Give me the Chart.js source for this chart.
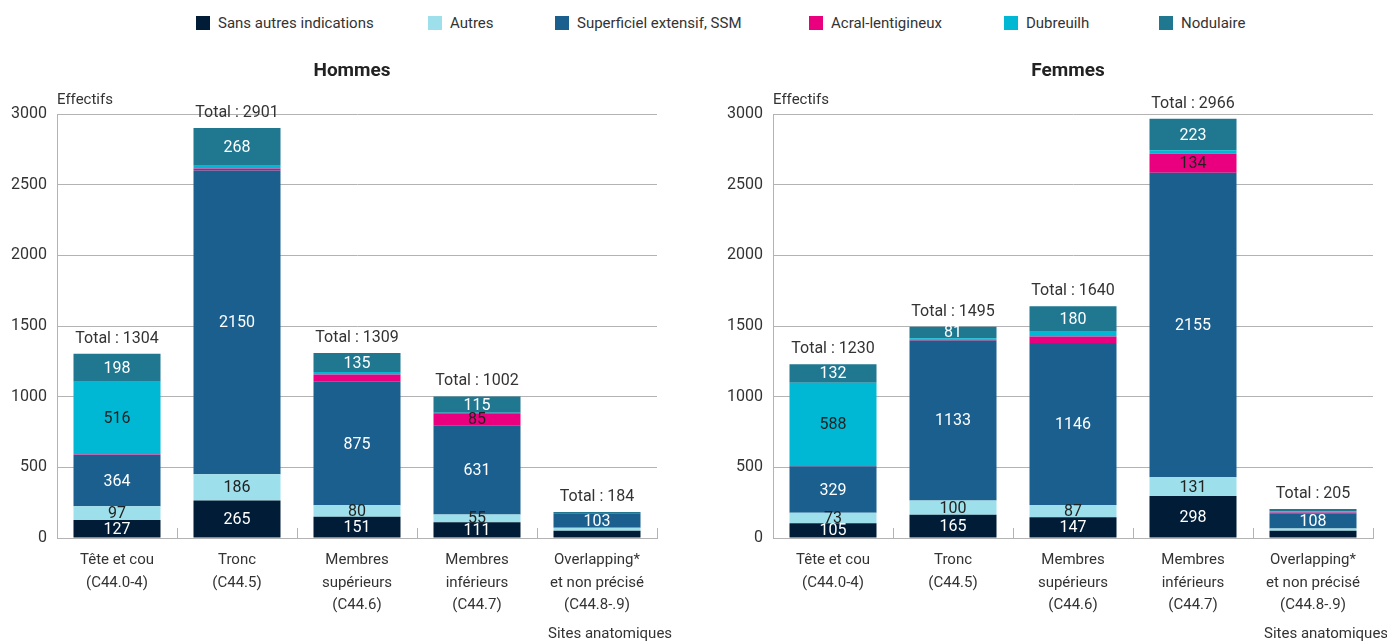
<!DOCTYPE html>
<html><head><meta charset="utf-8">
<script src="https://cdn.jsdelivr.net/npm/chart.js@4.4.0/dist/chart.umd.min.js"></script>
<style>
body{margin:0;background:#fff;width:1387px;height:643px;overflow:hidden;position:relative;font-family:Roboto,'Liberation Sans',sans-serif;}
#legend{position:absolute;top:14px;left:0;width:1387px;height:20px;font-size:15px;color:#333;white-space:nowrap;}
.item{position:absolute;top:0;display:flex;align-items:center;}
.box{width:14px;height:14px;margin-right:8px;}
canvas{position:absolute;top:0;}
</style></head><body>
<div id="legend"></div>
<canvas id="c1" width="693" height="643" style="left:0"></canvas>
<canvas id="c2" width="694" height="643" style="left:693px"></canvas>
<script>
const FONT = "Roboto,'Liberation Sans',sans-serif";
const categories = [["Tête et cou","(C44.0-4)"],["Tronc","(C44.5)"],["Membres","supérieurs","(C44.6)"],["Membres","inférieurs","(C44.7)"],["Overlapping*","et non précisé","(C44.8-.9)"]];
const seriesNames = ["Sans autres indications","Autres","Superficiel extensif, SSM","Acral-lentigineux","Dubreuilh","Nodulaire"];
const seriesColors = ["#001c37","#9ddfeb","#1a5f8e","#ea007f","#00b8d3","#1f7790"];
const labelColors = ["#ffffff","#222222","#ffffff","#222222","#222222","#ffffff"];
const yTicks = [0,500,1000,1500,2000,2500,3000];

// Hommes
const hSAI = [127,265,151,111,52];
const hAutres = [97,186,80,55,20];
const hSSM = [364,2150,875,631,103];
const hAcral = [2,13,50,85,0];
const hDub = [516,19,18,5,2];
const hNod = [198,268,135,115,7];
const hTotals = [1304,2901,1309,1002,184];

// Femmes
const fSAI = [105,165,147,298,52];
const fAutres = [73,100,87,131,16];
const fSSM = [329,1133,1146,2155,108];
const fAcral = [3,5,45,134,4];
const fDub = [588,11,35,25,7];
const fNod = [132,81,180,223,18];
const fTotals = [1230,1495,1640,2966,205];

const LABEL_MIN = 55;
const GRID = '#b3b3b3';
const legendLeft = [196,428,555,809,1004,1159]; // layout

const lg = document.getElementById('legend');
seriesNames.forEach((n,i)=>{
  const it=document.createElement('div');it.className='item';it.style.left=legendLeft[i]+'px';
  const b=document.createElement('div');b.className='box';b.style.background=seriesColors[i];
  const t=document.createElement('span');t.textContent=n;
  it.appendChild(b);it.appendChild(t);lg.appendChild(it);
});

Chart.defaults.font.family = FONT;
Chart.defaults.color = '#333';

function makeChart(id, title, series, totals, yWidth, rightPad) {
  const textPlugin = {
    id:'txt',
    afterDatasetsDraw(chart){
      const ctx = chart.ctx, ca = chart.chartArea, xs = chart.scales.x;
      ctx.save();
      const half = (xs.getPixelForValue(1)-xs.getPixelForValue(0))/2;
      ctx.strokeStyle = GRID; ctx.lineWidth = 1;
      for (let i=0;i<=categories.length;i++){
        const x = Math.round(xs.getPixelForValue(i)-half)+0.5;
        ctx.beginPath(); ctx.moveTo(x, ca.bottom); ctx.lineTo(x, ca.bottom-10); ctx.stroke();
      }
      ctx.textAlign='center'; ctx.textBaseline='middle';
      ctx.font = "16px "+FONT;
      chart.data.datasets.forEach((ds,di)=>{
        const meta = chart.getDatasetMeta(di);
        meta.data.forEach((bar,i)=>{
          const v = ds.data[i];
          if (v < LABEL_MIN) return;
          ctx.fillStyle = labelColors[di];
          ctx.fillText(String(v), bar.x, (bar.y+bar.base)/2+1);
        });
      });
      ctx.fillStyle='#333';
      const last = chart.getDatasetMeta(chart.data.datasets.length-1);
      last.data.forEach((bar,i)=>{
        ctx.fillText('Total : '+totals[i], bar.x, bar.y-15);
      });
      ctx.fillStyle='#222';
      ctx.font = "bold 19px "+FONT;
      ctx.fillText(title, (ca.left+ca.right)/2-5, 71);
      ctx.font = "15px "+FONT;
      ctx.fillStyle='#333';
      ctx.textAlign='left';
      ctx.fillText('Effectifs', ca.left, 100);
      ctx.fillText('Sites anatomiques', ca.right-109, 634);
      ctx.restore();
    }
  };
  return new Chart(document.getElementById(id), {
    type:'bar',
    data:{
      labels: categories,
      datasets: series.map((d,i)=>({label:seriesNames[i], data:d, backgroundColor:seriesColors[i], borderWidth:0, barPercentage:0.725, categoryPercentage:1}))
    },
    options:{
      responsive:false, animation:false,
      layout:{padding:{top:114,right:rightPad,left:0,bottom:0}},
      plugins:{legend:{display:false}, title:{display:false}, tooltip:{enabled:false}},
      scales:{
        x:{stacked:true, grid:{display:false}, border:{display:true,color:GRID,width:1},
           ticks:{padding:3, font:{size:15,lineHeight:1.5}, color:'#333', maxRotation:0, autoSkip:false},
           afterFit(s){ s.height = 105; }},
        y:{stacked:true, min:0, max:3000,
           afterBuildTicks(s){ s.ticks = yTicks.map(v=>({value:v})); },
           grid:{color:GRID, drawTicks:false, lineWidth:1},
           border:{display:true,color:GRID,width:1},
           ticks:{padding:10, font:{size:16}, color:'#333', callback:(v)=>String(v)},
           afterFit(s){ s.width = yWidth; }}
      }
    },
    plugins:[textPlugin]
  });
}

makeChart('c1','Hommes',[hSAI,hAutres,hSSM,hAcral,hDub,hNod],hTotals,57,36);
makeChart('c2','Femmes',[fSAI,fAutres,fSSM,fAcral,fDub,fNod],fTotals,80,14);
</script>
</body></html>
